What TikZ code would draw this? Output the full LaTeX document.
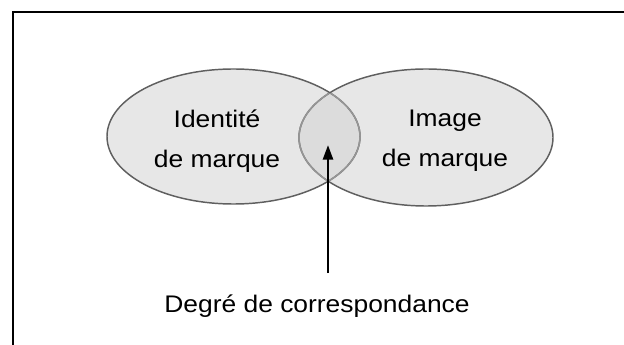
\documentclass[tikz,border=0pt]{standalone}
\usepackage{fontspec}
\setmainfont[FakeStretch=1.1]{Liberation Sans}
\usetikzlibrary{arrows.meta}
\definecolor{ovalfill}{RGB}{231,231,231}
\definecolor{overlapfill}{RGB}{220,220,220}
\definecolor{ovalline}{RGB}{95,95,95}
\definecolor{innerline}{RGB}{150,150,150}

\begin{document}
\begin{tikzpicture}[x=0.75pt,y=0.75pt,yscale=-1,xscale=1]
\useasboundingbox (0,0) rectangle (624,345);

%Shape: Frame
\draw [line width=1.1pt] (13,12) rectangle (630,350);

%Shape: Ellipse fills
\fill [ovalfill] (233.5,136.5) ellipse (126.5 and 67.5);
\fill [ovalfill] (426,137.5) ellipse (127 and 68.5);
\begin{scope}
\clip (233.5,136.5) ellipse (126.5 and 67.5);
\fill [overlapfill] (426,137.5) ellipse (127 and 68.5);
\end{scope}

%Shape: Ellipse outlines
\draw [color=ovalline, line width=1.1pt] (233.5,136.5) ellipse (126.5 and 67.5);
\draw [color=ovalline, line width=1.1pt] (426,137.5) ellipse (127 and 68.5);
% lighter arcs inside the overlap
\begin{scope}
\clip (233.5,136.5) ellipse (125.8 and 66.8);
\draw [color=innerline, line width=1.1pt] (426,137.5) ellipse (127 and 68.5);
\end{scope}
\begin{scope}
\clip (426,137.5) ellipse (126.3 and 67.8);
\draw [color=innerline, line width=1.1pt] (233.5,136.5) ellipse (126.5 and 67.5);
\end{scope}

% Text Node
\draw (217,141) node (identite) [inner sep=0pt, font=\fontsize{18}{30}\selectfont, align=center] {Identité\\de marque};
% Text Node
\draw (445,141) node (image) [inner sep=0pt, font=\fontsize{18}{30}\selectfont, align=center] {Image\\de marque};
% Text Node
\draw (317,312) node (degre) [anchor=base, inner sep=0pt, font=\fontsize{18}{22}\selectfont] {Degré de correspondance};

%Straight Lines
\coordinate (arrowfoot) at (328,273);
\coordinate (overlap) at (328,145);
\draw [line width=2pt, -{Triangle[length=11pt, width=7.5pt]}] (arrowfoot) -- (overlap);

\end{tikzpicture}
\end{document}
